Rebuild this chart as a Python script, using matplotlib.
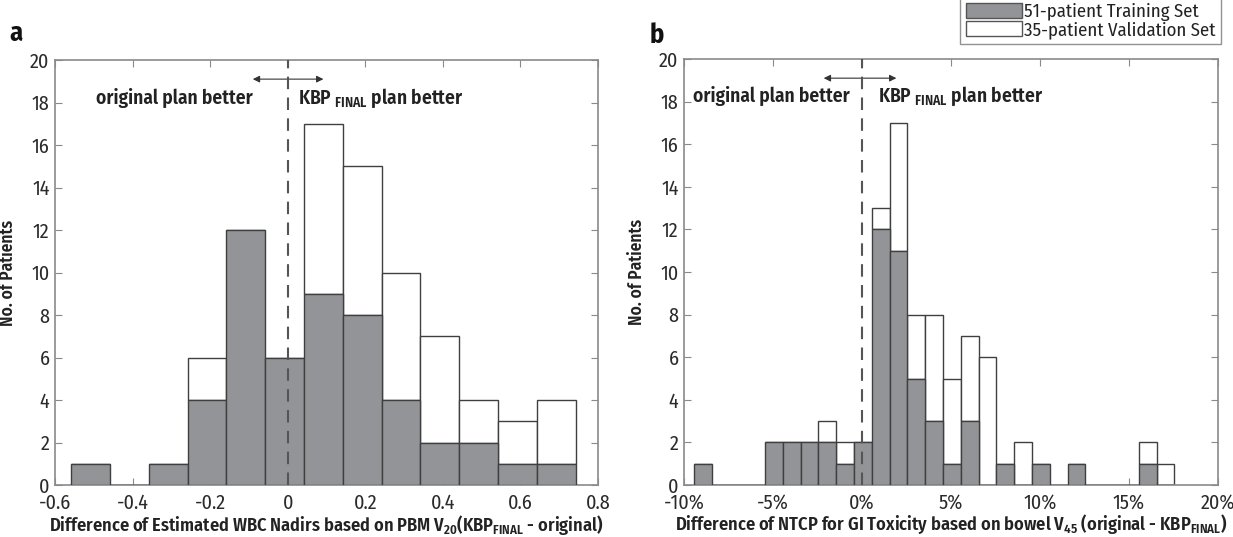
import numpy as np
import matplotlib
matplotlib.use("Agg")
import matplotlib.pyplot as plt
from matplotlib.patches import Patch

FONT = 'Fira Sans Condensed'
plt.rcParams['font.family'] = [FONT, 'DejaVu Sans']
plt.rcParams['mathtext.fontset'] = 'custom'
plt.rcParams['mathtext.rm'] = FONT
plt.rcParams['mathtext.bf'] = FONT + ':weight=semibold'
plt.rcParams['mathtext.it'] = FONT

# ---- Panel a data (bin centers, counts) ----
a_centers = [-0.508, -0.408, -0.308, -0.208, -0.108, -0.008, 0.092, 0.192,
             0.292, 0.392, 0.492, 0.592, 0.692]
a_train = [1, 0, 1, 4, 12, 6, 9, 8, 4, 2, 2, 1, 1]
a_total = [1, 0, 1, 6, 12, 6, 17, 15, 10, 7, 4, 3, 4]
a_xticks = [-0.6, -0.4, -0.2, 0, 0.2, 0.4, 0.6, 0.8]
a_xticklabels = ['-0.6', '-0.4', '-0.2', '0', '0.2', '0.4', '0.6', '0.8']

# ---- Panel b data (bin centers in %, counts) ----
b_centers = [-8.95, -7.95, -6.95, -5.95, -4.95, -3.95, -2.95, -1.95, -0.95,
             0.05, 1.05, 2.05, 3.05, 4.05, 5.05, 6.05, 7.05, 8.05, 9.05,
             10.05, 11.05, 12.05, 13.05, 14.05, 15.05, 16.05, 17.05]
b_train = [1, 0, 0, 0, 2, 2, 2, 2, 1, 2, 12, 11, 5, 3, 1, 3, 0, 1, 0, 1, 0,
           1, 0, 0, 0, 1, 0]
b_total = [1, 0, 0, 0, 2, 2, 2, 3, 2, 2, 13, 17, 8, 8, 5, 7, 6, 1, 2, 1, 0,
           1, 0, 0, 0, 2, 1]
b_xticks = [-10, -5, 0, 5, 10, 15, 20]
b_xticklabels = ['-10%', '-5%', '0%', '5%', '10%', '15%', '20%']

yticks = [0, 2, 4, 6, 8, 10, 12, 14, 16, 18, 20]

legend_labels = ['51-patient Training Set', '35-patient Validation Set']

gray = '#939497'
edge = '#3f3f3f'
spine = '#8a8a8a'
txt = '#222222'

fig = plt.figure(figsize=(12.33, 5.37), dpi=100)
W, H = 1233, 537
axa = fig.add_axes([55 / W, 1 - 485 / H, (598 - 55) / W, (485 - 60) / H])
axb = fig.add_axes([684 / W, 1 - 485 / H, (1218 - 684) / W, (485 - 59) / H])


def draw(ax, centers, train, total, width, ylab_x):
    train = np.array(train)
    total = np.array(total)
    val = total - train
    ax.bar(centers, val, width=width, bottom=train, color='white',
           edgecolor=edge, linewidth=1.0, zorder=2)
    ax.bar(centers, train, width=width, color=gray, edgecolor=edge,
           linewidth=1.0, zorder=3)
    ax.set_ylim(0, 20)
    ax.set_yticks(yticks)
    ax.tick_params(direction='in', top=True, right=True, labelsize=14.5,
                   length=5, color=spine, labelcolor='#2a2a2a')
    ax.tick_params(axis='y', pad=4)
    ax.tick_params(axis='x', pad=6)
    for s in ax.spines.values():
        s.set_color(spine)
        s.set_linewidth(1.2)
    ax.set_ylabel('No. of Patients', fontsize=12.5, fontweight='semibold',
                  color=txt)
    ax.yaxis.set_label_coords(ylab_x, 0.5)


# Panel a
draw(axa, a_centers, a_train, a_total, 0.1, -0.07)
axa.set_xlim(-0.6, 0.8)
axa.set_xticks(a_xticks)
axa.set_xticklabels(a_xticklabels)
axa.axvline(0, color='#555555', linestyle=(0, (6, 4)), linewidth=1.5, zorder=4)
axa.annotate('', xy=(-0.09, 19.1), xytext=(0.092, 19.1),
             arrowprops=dict(arrowstyle='<|-|>', color='#333333', lw=0.8,
                             mutation_scale=10, shrinkA=0, shrinkB=0))
axa.text(-0.494, 18.2, 'original plan better', fontsize=14,
         fontweight='semibold', va='center', ha='left', color=txt)
axa.text(0.027, 18.2, r'KBP $_{\mathbf{FINAL}}$ plan better', fontsize=14,
         fontweight='semibold', va='center', ha='left', color=txt)
axa.set_xlabel(r'Difference of Estimated WBC Nadirs based on PBM V$_{\mathbf{20}}$(KBP$_{\mathbf{FINAL}}$ - original)',
               fontsize=13.2, fontweight='semibold', labelpad=0, color=txt)

# Panel b
draw(axb, b_centers, b_train, b_total, 1.0, -0.072)
axb.set_xlim(-10, 20)
axb.set_xticks(b_xticks)
axb.set_xticklabels(b_xticklabels)
axb.axvline(0, color='#555555', linestyle=(0, (6, 4)), linewidth=1.5, zorder=4)
axb.annotate('', xy=(-2.15, 19.1), xytext=(1.93, 19.1),
             arrowprops=dict(arrowstyle='<|-|>', color='#333333', lw=0.8,
                             mutation_scale=10, shrinkA=0, shrinkB=0))
axb.text(-9.49, 18.25, 'original plan better', fontsize=14,
         fontweight='semibold', va='center', ha='left', color=txt)
axb.text(0.88, 18.25, r'KBP $_{\mathbf{FINAL}}$ plan better', fontsize=14,
         fontweight='semibold', va='center', ha='left', color=txt)
axb.set_xlabel(r'Difference of NTCP for GI Toxicity based on bowel V$_{\mathbf{45}}$ (original - KBP$_{\mathbf{FINAL}}$)',
               fontsize=13.2, fontweight='semibold', labelpad=0, color=txt)

# Panel letters
fig.text(9 / W, 1 - 33 / H, 'a', fontsize=19, fontweight='bold', va='center',
         color='#111111')
fig.text(650 / W, 1 - 35 / H, 'b', fontsize=19, fontweight='bold', va='center',
         color='#111111')

# Legend
handles = [Patch(facecolor=gray, edgecolor='#555555', linewidth=1.0),
           Patch(facecolor='white', edgecolor='#555555', linewidth=1.0)]
leg = fig.legend(handles, legend_labels, loc='upper right',
                 bbox_to_anchor=(1221 / W, 1 + 3 / H), fontsize=13.5,
                 frameon=True, fancybox=False, handlelength=3.0,
                 handleheight=0.9, handletextpad=0.1, borderpad=0.3,
                 labelspacing=0.0, borderaxespad=0.0)
leg.get_frame().set_edgecolor('#777777')
leg.get_frame().set_linewidth(1.0)
for t in leg.get_texts():
    t.set_color(txt)

fig.savefig('out.png', dpi=100)
